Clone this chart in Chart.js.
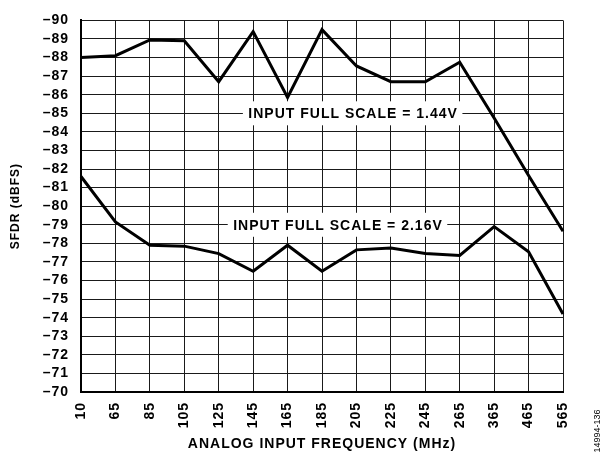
<!DOCTYPE html>
<html><head><meta charset="utf-8">
<script src="https://cdn.jsdelivr.net/npm/chart.js@4.4.1/dist/chart.umd.min.js"></script>
<style>html,body{margin:0;padding:0;background:#fff;}#wrap{width:611px;height:461px;}</style>
</head><body><div id="wrap"><canvas id="c" width="611" height="461"></canvas></div>
<script>
const categories = ['10','65','85','105','125','145','165','185','205','225','245','265','365','465','565'];
const sfdrFullScale144 = [-88.0,-88.1,-88.95,-88.9,-86.7,-89.4,-85.85,-89.5,-87.55,-86.7,-86.7,-87.75,-84.75,-81.65,-78.65];
const sfdrFullScale216 = [-81.6,-79.15,-77.9,-77.85,-77.45,-76.5,-77.9,-76.5,-77.65,-77.75,-77.45,-77.35,-78.9,-77.55,-74.2];
const seriesLabels = ['INPUT FULL SCALE = 1.44V', 'INPUT FULL SCALE = 2.16V'];
const xTitle = 'ANALOG INPUT FREQUENCY (MHz)';
const yTitle = 'SFDR (dBFS)';
const figureId = '14994-136';

const FONT = '"Liberation Sans", Arial, Helvetica, sans-serif';
const SPACING = '1px';

const spacingPlugin = {
  id: 'spacing',
  beforeUpdate(chart){ chart.ctx.letterSpacing = SPACING; },
  beforeLayout(chart){ chart.ctx.letterSpacing = SPACING; },
  beforeDraw(chart){ chart.ctx.letterSpacing = SPACING; }
};

// label anchors: [category index, value]
const labelAnchors = [[7.89, -85], [7.45, -79]];

const labelPlugin = {
  id: 'fsLabels',
  beforeDatasetsDraw(chart){
    const {ctx, scales:{x, y}} = chart;
    ctx.save();
    ctx.letterSpacing = SPACING;
    ctx.font = 'bold 14px ' + FONT;
    ctx.textAlign = 'center';
    ctx.textBaseline = 'middle';
    seriesLabels.forEach((t, i) => {
      const px = x.getPixelForValue(labelAnchors[i][0]);
      const py = y.getPixelForValue(labelAnchors[i][1]);
      const w = ctx.measureText(t).width + 10;
      ctx.fillStyle = '#fff';
      ctx.fillRect(px - w/2, py - 12, w, 24);
      ctx.fillStyle = '#000';
      ctx.fillText(t, px + 0.5, py + 1);
    });
    ctx.restore();
  },
  afterDraw(chart){
    const ctx = chart.ctx;
    ctx.save();
    ctx.letterSpacing = '0px';
    ctx.font = '9px ' + FONT;
    ctx.fillStyle = '#000';
    ctx.textAlign = 'center';
    ctx.textBaseline = 'middle';
    ctx.translate(598, 431);
    ctx.rotate(-Math.PI/2);
    ctx.fillText(figureId, 0, 0);
    ctx.restore();
  }
};

new Chart(document.getElementById('c'), {
  type: 'line',
  data: {
    labels: categories,
    datasets: [
      {label: seriesLabels[0], data: sfdrFullScale144, borderColor: '#000', borderWidth: 3, pointRadius: 0, tension: 0, fill: false},
      {label: seriesLabels[1], data: sfdrFullScale216, borderColor: '#000', borderWidth: 3, pointRadius: 0, tension: 0, fill: false}
    ]
  },
  options: {
    responsive: false,
    animation: false,
    devicePixelRatio: 1,
    layout: {padding: {top: 9, right: 48, left: 0, bottom: 0}},
    plugins: {legend: {display: false}, tooltip: {enabled: false}},
    scales: {
      x: {
        type: 'category',
        offset: false,
        grid: {color: '#1a1a1a', lineWidth: 1, drawTicks: false, offset: false},
        border: {color: '#000', width: 2},
        ticks: {autoSkip: false, minRotation: 90, maxRotation: 90, padding: 10, color: '#000',
                font: {family: FONT, size: 14, weight: 'bold'}},
        title: {display: true, text: xTitle, color: '#000', padding: {top: 0, bottom: 8},
                font: {family: FONT, size: 14, weight: 'bold'}},
        afterFit(s){ s.height = 69; }
      },
      y: {
        type: 'linear',
        reverse: true,
        min: -90, max: -70,
        grid: {color: '#1a1a1a', lineWidth: 1, drawTicks: false},
        border: {color: '#000', width: 2},
        ticks: {stepSize: 1, autoSkip: false, padding: 12, color: '#000',
                font: {family: FONT, size: 14, weight: 'bold'},
                callback: v => String(v).replace('-', '\u2013')},
        title: {display: true, text: yTitle, color: '#000', padding: {top: 8, bottom: 0},
                font: {family: FONT, size: 12, weight: 'bold'}},
        afterFit(s){ s.width = 81; }
      }
    }
  },
  plugins: [spacingPlugin, labelPlugin]
});
</script>
</body></html>
